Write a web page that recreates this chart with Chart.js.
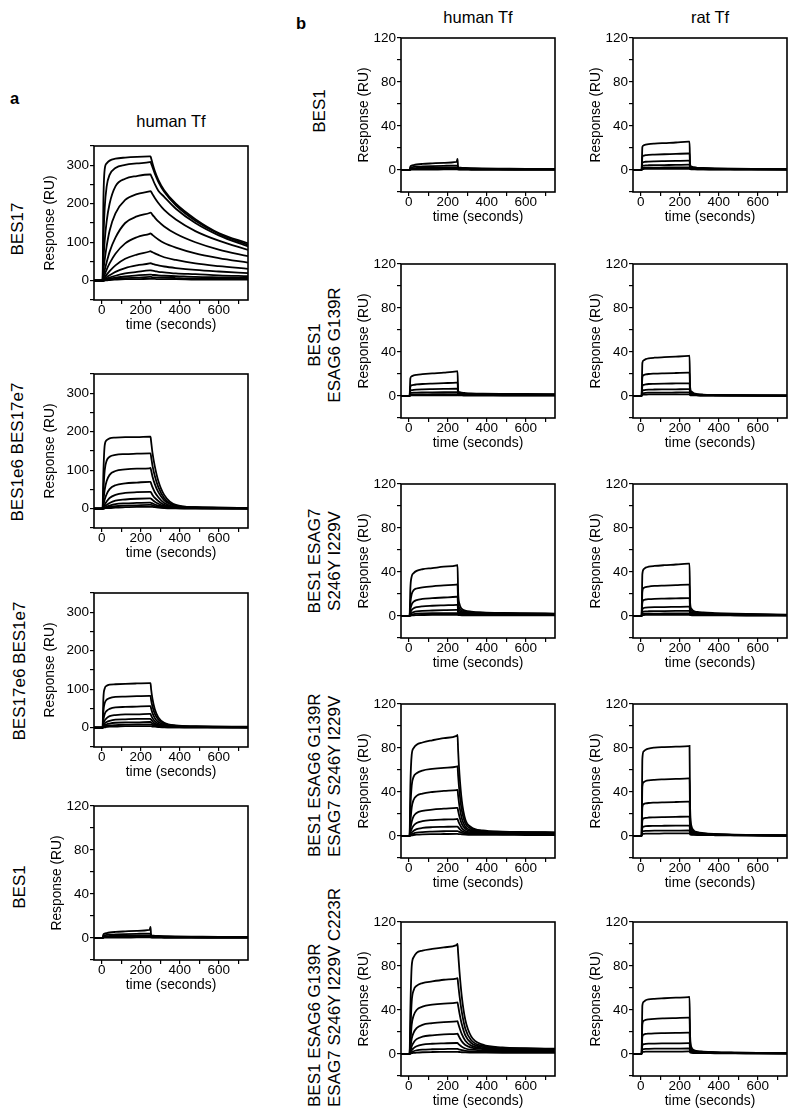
<!DOCTYPE html>
<html>
<head>
<meta charset="utf-8">
<script src="https://cdn.jsdelivr.net/npm/chart.js@4.4.1/dist/chart.umd.min.js"></script>
<style>
body { margin: 0; background: #fff; width: 800px; height: 1119px; position: relative; overflow: hidden;
       font-family: "Liberation Sans", Arial, Helvetica, sans-serif; color: #000; }
canvas { position: absolute; }
.t { position: absolute; font-size: 16.5px; line-height: 18px; white-space: nowrap; }
.c { transform: translateX(-50%); }
.rl { position: absolute; font-size: 17px; line-height: 20px; white-space: nowrap; width: 220px;
      transform-origin: 0 0; transform: rotate(-90deg); }
</style>
</head>
<body>
<div class="t" style="left:10px;top:89px;font-weight:bold">a</div>
<div class="t" style="left:296px;top:14px;font-weight:bold">b</div>
<div class="t c" style="left:171px;top:112px">human Tf</div>
<div class="t c" style="left:478px;top:8px">human Tf</div>
<div class="t c" style="left:710px;top:8px">rat Tf</div>

<div class="rl" style="left:8px;top:339px;text-align:center">BES17</div>
<div class="rl" style="left:8px;top:562px;text-align:center">BES1e6 BES17e7</div>
<div class="rl" style="left:10px;top:781px;text-align:center">BES17e6 BES1e7</div>
<div class="rl" style="left:10px;top:997px;text-align:center">BES1</div>
<div class="rl" style="left:310px;top:221px;text-align:center">BES1</div>
<div class="rl" style="left:305px;top:455px;text-align:center">BES1<br>ESAG6 G139R</div>
<div class="rl" style="left:305px;top:671px;text-align:center">BES1 ESAG7<br>S246Y I229V</div>
<div class="rl" style="left:305px;top:857px;text-align:left">BES1 ESAG6 G139R<br>ESAG7 S246Y I229V</div>
<div class="rl" style="left:305px;top:1107px;text-align:left">BES1 ESAG6 G139R<br>ESAG7 S246Y I229V C223R</div>

<script>
const FONT = '"Liberation Sans", Arial, Helvetica, sans-serif';

// sample times (s) shared by every sensorgram
const TIME = [-40, 4, 8, 15, 25, 40, 70, 120, 180, 245, 250, 253, 260, 272, 290, 320, 380, 480, 600, 750];
const X_TICKS = [0, 100, 200, 300, 400, 500, 600, 700];
const X_LABELS = [0, 200, 400, 600];
const Y_TICKS_300 = [-50, 0, 50, 100, 150, 200, 250, 300, 350];
const Y_LABELS_300 = [0, 100, 200, 300];
const Y_TICKS_120 = [-20, 0, 20, 40, 60, 80, 100, 120];
const Y_LABELS_120 = [0, 40, 80, 120];

// response (RU) of each concentration, one row per curve
const BES17_HUMAN = [
  [0,0,200,290,305,312,317,320,322,323,323,318,305,285,262,235,200,160,124,97],
  [0,0,100,190,245,275,293,301,305,308,309,305,295,278,257,231,196,156,122,93],
  [0,0,50,105,155,200,245,265,272,276,276,273,265,251,234,218,187,150,118,89],
  [0,0,25,55,90,130,175,210,225,232,233,231,225,215,202,184,159,129,104,80],
  [0,0,12,28,48,75,112,150,167,176,177,176,171,164,154,141,122,100,81,64],
  [0,0,7,16,29,45,70,97,113,122,123,122,119,114,107,98,86,71,59,47],
  [0,0,4,9,16,25,40,57,68,76,77,76,74,71,67,61,54,45,38,31],
  [0,0,2,5,9,14,23,33,40,45,46,45,44,42,40,37,33,28,24,20],
  [0,0,1,3,5,8,13,19,23,27,27,27,26,25,23,22,19,17,14,12],
  [0,0,1,2,3,5,8,11,14,16,16,16,15,15,14,13,12,10,9,8],
  [0,0,0,1,2,3,5,7,8,10,10,10,9,9,9,8,7,6,6,5],
  [0,0,0,1,1,2,3,4,4,5,5,5,5,5,4,4,4,3,3,3]
];
const BES1E6_BES17E7_HUMAN = [
  [0,0,90,165,178,183,185,186,186,187,187,175,145,110,72,36,10,4,3,2],
  [0,0,45,100,125,135,140,142,143,144,144,135,112,85,56,28,8,4,3,2],
  [0,0,20,50,72,88,98,102,104,105,106,100,84,64,43,22,7,3,2,2],
  [0,0,9,24,38,51,61,66,68,70,70,66,56,43,30,15,5,3,2,1],
  [0,0,4,11,19,28,36,41,43,44,44,42,36,28,20,10,4,2,1,1],
  [0,0,2,6,10,15,21,24,26,27,27,26,23,18,13,7,3,2,1,1],
  [0,0,1,3,5,8,12,14,15,16,16,15,14,11,8,5,2,1,1,1],
  [0,0,1,2,3,5,7,8,9,10,10,10,9,7,5,3,2,1,1,1],
  [0,0,0,1,2,2,3,4,5,5,5,5,5,4,3,2,1,1,1,0]
];
const BES17E6_BES1E7_HUMAN = [
  [0,0,75,102,109,112,113,114,115,116,116,100,75,48,27,13,6,4,3,3],
  [0,0,42,64,73,77,80,81,82,83,83,72,55,36,21,11,5,3,3,2],
  [0,0,20,36,44,49,53,54,55,56,56,50,38,25,15,8,4,3,2,2],
  [0,0,10,19,25,30,33,35,35,36,36,32,25,17,10,6,3,2,2,2],
  [0,0,5,11,15,18,21,22,23,23,23,21,17,11,7,4,2,2,1,1],
  [0,0,3,6,9,11,13,14,14,15,15,14,11,8,5,3,2,1,1,1],
  [0,0,1,3,5,6,7,8,9,9,9,9,7,5,3,2,1,1,1,1],
  [0,0,1,1,2,3,3,4,4,4,4,4,3,3,2,1,1,1,1,0]
];
const BES1_HUMAN = [
  [0,0,3,4,4.5,5,5.5,6,6.5,7.3,10,2.5,2.2,2,1.8,1.6,1.4,1.2,1,1],
  [0,0,2,2.5,2.8,3,3.2,3.5,3.8,4,4,1.8,1.6,1.5,1.4,1.3,1.1,1,0.9,0.8],
  [0,0,1.2,1.5,1.7,1.8,2,2.1,2.2,2.3,2.3,1.2,1.1,1,1,0.9,0.8,0.7,0.6,0.6],
  [0,0,0.6,0.8,0.9,1,1,1.1,1.1,1.2,1.2,0.8,0.7,0.7,0.6,0.6,0.5,0.5,0.4,0.4],
  [0,0,0.2,0.3,0.3,0.4,0.4,0.4,0.5,0.5,0.5,0.3,0.3,0.3,0.3,0.2,0.2,0.2,0.2,0.2]
];
const BES1_RAT = [
  [0,0,21,22.5,23,23.5,24,24.5,25,25.8,25.8,5,3,2.5,2,1.8,1.5,1.2,1,0.8],
  [0,0,12,13,13.5,13.8,14,14.3,14.6,15,15,3.5,2.3,2,1.7,1.5,1.2,1,0.8,0.7],
  [0,0,6.5,7.2,7.5,7.7,7.9,8.1,8.3,8.5,8.5,2.5,1.8,1.5,1.3,1.2,1,0.8,0.7,0.6],
  [0,0,3.5,4,4.2,4.3,4.4,4.5,4.6,4.8,4.8,1.8,1.3,1.1,1,0.9,0.8,0.7,0.6,0.5],
  [0,0,1.8,2,2.1,2.2,2.2,2.3,2.3,2.4,2.4,1.2,0.9,0.8,0.7,0.7,0.6,0.5,0.5,0.4],
  [0,0,0.8,0.9,1,1,1,1.1,1.1,1.1,1.1,0.7,0.6,0.5,0.5,0.5,0.4,0.4,0.3,0.3]
];
const G139R_HUMAN = [
  [0,0,16,18,18.8,19.3,19.8,20.5,21.2,22.3,22.5,5,3.5,3,2.7,2.4,2.1,1.9,1.8,1.7],
  [0,0,8.5,9.8,10.2,10.5,10.9,11.3,11.7,12.2,12.3,3.8,2.8,2.4,2.2,2,1.8,1.6,1.5,1.4],
  [0,0,4.5,5.3,5.6,5.8,6,6.2,6.4,6.6,6.6,2.8,2.2,1.9,1.7,1.6,1.4,1.3,1.2,1.1],
  [0,0,2.3,2.8,3,3.1,3.2,3.3,3.4,3.5,3.5,2,1.6,1.4,1.3,1.2,1.1,1,1,0.9],
  [0,0,1,1.3,1.4,1.5,1.5,1.6,1.6,1.7,1.7,1.2,1,0.9,0.9,0.8,0.8,0.7,0.7,0.7],
  [0,0,0.4,0.5,0.6,0.6,0.6,0.7,0.7,0.7,0.7,0.5,0.5,0.5,0.4,0.4,0.4,0.4,0.4,0.4]
];
const G139R_RAT = [
  [0,0,30,32.5,33.5,34.2,34.8,35.3,35.8,36.5,36.6,8,4,2.5,1.8,1.3,1,0.8,0.6,0.5],
  [0,0,17,19,19.6,20,20.3,20.6,20.9,21.2,21.2,5,2.8,1.8,1.4,1.1,0.8,0.6,0.5,0.4],
  [0,0,9,10.2,10.6,10.9,11.1,11.3,11.4,11.5,11.5,3,1.9,1.4,1.1,0.9,0.7,0.5,0.4,0.4],
  [0,0,4.5,5.3,5.6,5.8,5.9,6,6.1,6.2,6.2,2,1.4,1.1,0.9,0.7,0.6,0.5,0.4,0.3],
  [0,0,2.2,2.7,2.9,3,3.1,3.1,3.2,3.3,3.3,1.3,1,0.8,0.7,0.6,0.5,0.4,0.3,0.3],
  [0,0,1,1.2,1.3,1.4,1.4,1.5,1.5,1.5,1.5,0.8,0.6,0.5,0.5,0.4,0.4,0.3,0.3,0.2]
];
const S246Y_HUMAN = [
  [0,0,25,36,39,41,42.5,43.5,44.8,46,46.5,22,11,6.5,4.8,4,3.3,2.8,2.5,2.2],
  [0,0,12,20,23.5,25,26,27,27.8,28.6,28.8,13,7,4.7,3.8,3.3,2.9,2.5,2.2,2],
  [0,0,6,10.5,13,14.5,15.5,16.2,16.8,17.5,17.6,8,4.8,3.6,3,2.7,2.4,2.1,1.9,1.7],
  [0,0,3,5.5,7,8,8.8,9.3,9.7,10.1,10.2,5,3.3,2.6,2.3,2.1,1.9,1.7,1.5,1.4],
  [0,0,1.5,2.8,3.6,4.2,4.7,5,5.3,5.5,5.5,3,2.3,1.9,1.7,1.6,1.5,1.3,1.2,1.1],
  [0,0,0.8,1.4,1.8,2.1,2.3,2.5,2.6,2.7,2.7,1.8,1.5,1.3,1.2,1.1,1,0.9,0.9,0.8],
  [0,0,0.3,0.5,0.7,0.8,0.9,1,1,1.1,1.1,0.9,0.8,0.7,0.7,0.6,0.6,0.5,0.5,0.5]
];
const S246Y_RAT = [
  [0,0,38,42.5,44,44.8,45.5,46.2,46.8,47.6,47.7,12,6.5,4.5,3.7,3.2,2.7,2.1,1.6,1.2],
  [0,0,22,25.5,26.3,26.8,27.3,27.7,28.1,28.6,28.6,8,4.8,3.6,3,2.7,2.2,1.8,1.4,1],
  [0,0,12,14.5,15,15.3,15.6,15.8,16,16.3,16.3,5,3.4,2.7,2.4,2.1,1.8,1.5,1.2,0.9],
  [0,0,6,7.3,7.6,7.8,8,8.1,8.3,8.5,8.5,3.2,2.4,2,1.8,1.6,1.4,1.2,1,0.8],
  [0,0,3.2,4,4.2,4.3,4.4,4.5,4.6,4.7,4.7,2.2,1.7,1.5,1.4,1.3,1.1,1,0.8,0.7],
  [0,0,1.6,2,2.1,2.2,2.2,2.3,2.3,2.4,2.4,1.4,1.2,1.1,1,0.9,0.8,0.7,0.6,0.5],
  [0,0,0.7,0.9,1,1,1,1,1.1,1.1,1.1,0.8,0.7,0.6,0.6,0.6,0.5,0.5,0.4,0.4]
];
const DOUBLE_HUMAN = [
  [0,0,45,74,80,83,85,87,89,91,92,78,56,32,15,8,5,4,3.6,3.3],
  [0,0,25,46,54,57,59.5,61,62,63,63.5,55,40,23,11.5,6.5,4.5,3.7,3.4,3.1],
  [0,0,12,26,33,36.5,38.5,40,41,41.8,42,37,27,16,8.5,5.3,4,3.4,3.1,2.9],
  [0,0,6,13,18,21,22.8,24,24.8,25.5,25.6,23,17.5,11,6.5,4.3,3.5,3,2.8,2.6],
  [0,0,3,6.5,9.5,11.8,13.5,14.5,15,15.4,15.5,14,11,7.2,4.6,3.4,2.9,2.6,2.4,2.3],
  [0,0,1.5,3.2,4.8,6.2,7.3,8,8.3,8.6,8.6,8,6.5,4.6,3.3,2.6,2.3,2.1,2,1.9],
  [0,0,0.7,1.5,2.3,3,3.6,4,4.3,4.5,4.5,4.3,3.7,2.9,2.3,1.9,1.7,1.6,1.5,1.4],
  [0,0,0.3,0.6,0.9,1.2,1.5,1.7,1.8,1.9,1.9,1.8,1.7,1.5,1.3,1.1,1,1,0.9,0.9]
];
const DOUBLE_RAT = [
  [0,0,70,77,78.5,79.5,80.3,80.8,81.2,81.7,81.8,25,9,5,3.5,2.6,1.8,1.2,0.8,0.5],
  [0,0,45,49,50,50.6,51.1,51.5,51.9,52.4,52.5,17,6.5,4,3,2.3,1.6,1.1,0.7,0.5],
  [0,0,26,29,29.6,30,30.3,30.6,30.9,31.2,31.2,10,4.5,3,2.4,1.9,1.4,1,0.7,0.4],
  [0,0,14,16,16.5,16.8,17,17.2,17.4,17.6,17.6,6,3.2,2.4,2,1.6,1.2,0.9,0.6,0.4],
  [0,0,7.2,8.5,8.9,9.1,9.2,9.3,9.4,9.5,9.5,3.8,2.4,1.9,1.6,1.3,1,0.8,0.6,0.4],
  [0,0,3.8,4.4,4.6,4.7,4.8,4.8,4.9,5,5,2.4,1.7,1.4,1.2,1.1,0.9,0.7,0.5,0.4],
  [0,0,1.7,2,2.1,2.2,2.2,2.3,2.3,2.4,2.4,1.4,1.1,1,0.9,0.8,0.7,0.6,0.5,0.3]
];
const C223R_HUMAN = [
  [0,0,40,80,88,92,94,95.5,97,99,100,92,75,52,31,16,8.5,6,5.3,4.8],
  [0,0,20,48,58,62,64.5,66,67.5,68.6,69,64,53,38,23,12.5,7.3,5.4,4.9,4.5],
  [0,0,10,27,35,40,43,44.8,45.8,46.6,47,44,37,27,17,10,6.3,5,4.6,4.2],
  [0,0,5,14,19.5,23.5,26.5,28,29,29.6,29.8,28,24,18,12,7.6,5.4,4.5,4.2,3.9],
  [0,0,2.5,7,10.5,13.5,15.8,17,17.8,18.3,18.4,17.5,15,11.5,8.2,5.8,4.5,3.9,3.7,3.5],
  [0,0,1.2,3.5,5.3,7,8.5,9.3,9.7,10,10,9.5,8.3,6.6,5,3.9,3.3,3,2.9,2.8],
  [0,0,0.6,1.6,2.5,3.2,3.9,4.3,4.5,4.7,4.7,4.5,4.1,3.5,2.9,2.4,2.1,2,2,1.9],
  [0,0,0.3,0.7,1,1.3,1.6,1.8,1.9,2,2,1.9,1.8,1.6,1.4,1.3,1.2,1.1,1.1,1.1]
];
const C223R_RAT = [
  [0,0,44,47.5,48.8,49.6,50.2,50.7,51.2,51.8,52,16,6,3.6,2.7,2.2,1.7,1.3,1,0.8],
  [0,0,27,30.2,31,31.5,32,32.4,32.7,33,33,11,4.5,3,2.3,1.9,1.5,1.2,0.9,0.7],
  [0,0,15.5,17.6,18.2,18.5,18.8,19,19.2,19.4,19.4,6.5,3.3,2.4,2,1.7,1.3,1,0.8,0.6],
  [0,0,7.8,8.9,9.2,9.4,9.5,9.6,9.7,9.8,9.8,3.8,2.3,1.8,1.5,1.3,1.1,0.9,0.7,0.5],
  [0,0,3.8,4.4,4.6,4.7,4.8,4.8,4.9,5,5,2.3,1.6,1.3,1.2,1.1,0.9,0.8,0.6,0.5],
  [0,0,1.7,2,2.1,2.1,2.2,2.2,2.2,2.3,2.3,1.3,1,0.9,0.8,0.8,0.7,0.6,0.5,0.4]
];

// left/top = plot box corner in the page
const panels = [
  { curves: BES17_HUMAN, left: 94, top: 146, big: true, tpad: 0 },
  { curves: BES1E6_BES17E7_HUMAN, left: 94, top: 374, big: true, tpad: 0 },
  { curves: BES17E6_BES1E7_HUMAN, left: 94, top: 593, big: true, tpad: 0 },
  { curves: BES1_HUMAN, left: 94, top: 806, big: false, tpad: 7 },
  { curves: BES1_HUMAN, left: 401, top: 38, big: false, tpad: 7 },
  { curves: BES1_RAT, left: 633, top: 38, big: false, tpad: 7 },
  { curves: G139R_HUMAN, left: 401, top: 264, big: false, tpad: 7 },
  { curves: G139R_RAT, left: 633, top: 264, big: false, tpad: 7 },
  { curves: S246Y_HUMAN, left: 401, top: 484, big: false, tpad: 7 },
  { curves: S246Y_RAT, left: 633, top: 484, big: false, tpad: 7 },
  { curves: DOUBLE_HUMAN, left: 401, top: 704, big: false, tpad: 7 },
  { curves: DOUBLE_RAT, left: 633, top: 704, big: false, tpad: 7 },
  { curves: C223R_HUMAN, left: 401, top: 922, big: false, tpad: 7 },
  { curves: C223R_RAT, left: 633, top: 922, big: false, tpad: 7 }
];

const BOX = 154, YW = 52, XH = 36, PT = 10, PR = 6;

const frame = {
  id: "frame",
  afterDraw(chart) {
    const a = chart.chartArea, ctx = chart.ctx;
    ctx.save();
    ctx.strokeStyle = "#000";
    ctx.lineWidth = 1.6;
    ctx.strokeRect(a.left, a.top, a.right - a.left, a.bottom - a.top);
    ctx.restore();
  }
};

panels.forEach(p => {
  const cv = document.createElement("canvas");
  const w = YW + BOX + PR, h = PT + BOX + XH;
  cv.width = w; cv.height = h;
  cv.style.left = (p.left - YW) + "px";
  cv.style.top = (p.top - PT) + "px";
  cv.style.width = w + "px"; cv.style.height = h + "px";
  document.body.appendChild(cv);

  const yTicks = p.big ? Y_TICKS_300 : Y_TICKS_120;
  const yLabels = p.big ? Y_LABELS_300 : Y_LABELS_120;

  new Chart(cv, {
    type: "line",
    data: {
      datasets: p.curves.map(c => ({
        data: TIME.map((t, i) => ({ x: t, y: c[i] })),
        borderColor: "#000",
        borderWidth: 1.8,
        pointRadius: 0,
        fill: false,
        cubicInterpolationMode: "monotone"
      }))
    },
    options: {
      responsive: false,
      animation: false,
      devicePixelRatio: 1,
      layout: { padding: { top: PT, right: PR, left: 0, bottom: 0 } },
      plugins: { legend: { display: false }, tooltip: { enabled: false } },
      scales: {
        x: {
          type: "linear", min: -40, max: 750,
          afterBuildTicks: s => { s.ticks = X_TICKS.map(v => ({ value: v })); },
          afterFit: s => { s.height = XH; },
          border: { display: false },
          grid: { drawOnChartArea: false, drawTicks: true, tickLength: 4, color: "#000", lineWidth: 1.2 },
          ticks: { autoSkip: false, maxRotation: 0, padding: -2, color: "#000",
                   font: { family: FONT, size: 13.5 },
                   callback: v => X_LABELS.includes(v) ? String(v) : "" },
          title: { display: true, text: "time (seconds)", color: "#000",
                   font: { family: FONT, size: 13.8 }, padding: { top: 0, bottom: 3 } }
        },
        y: {
          min: p.big ? -50 : -20, max: p.big ? 350 : 120,
          afterBuildTicks: s => { s.ticks = yTicks.map(v => ({ value: v })); },
          afterFit: s => { s.width = YW; },
          border: { display: false },
          grid: { drawOnChartArea: false, drawTicks: true, tickLength: 4, color: "#000", lineWidth: 1.2 },
          ticks: { autoSkip: false, padding: 1, color: "#000",
                   font: { family: FONT, size: 13.5 },
                   callback: v => yLabels.includes(v) ? String(v) : "" },
          title: { display: true, text: "Response (RU)", color: "#000",
                   font: { family: FONT, size: 13.8 }, padding: { top: p.tpad, bottom: 0 } }
        }
      }
    },
    plugins: [frame]
  });
});
</script>
</body>
</html>
